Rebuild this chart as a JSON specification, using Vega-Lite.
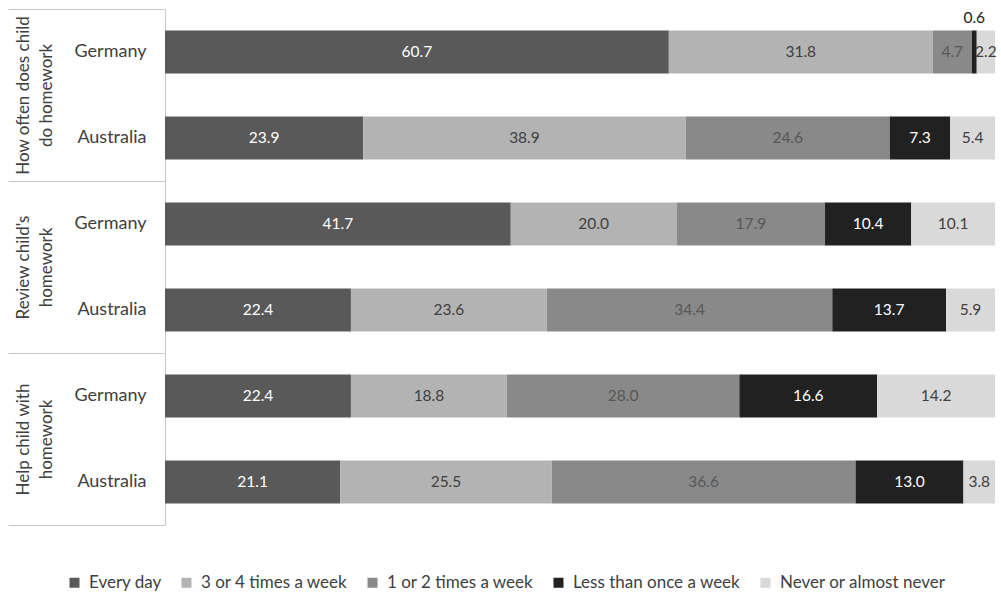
{
  "$schema": "https://vega.github.io/schema/vega-lite/v6.json",
  "width": 830,
  "height": 516,
  "autosize": "none",
  "padding": {"left": 165, "top": 9, "right": 6, "bottom": 68},
  "config": {"view": {"stroke": null}, "font": "Lato"},
  "data": {"values": [
    {"grp": "g1", "country": "Germany", "cat": "Every day", "value": 60.7},
    {"grp": "g1", "country": "Germany", "cat": "3 or 4 times a week", "value": 31.8},
    {"grp": "g1", "country": "Germany", "cat": "1 or 2 times a week", "value": 4.7},
    {"grp": "g1", "country": "Germany", "cat": "Less than once a week", "value": 0.6},
    {"grp": "g1", "country": "Germany", "cat": "Never or almost never", "value": 2.2},
    {"grp": "g1", "country": "Australia", "cat": "Every day", "value": 23.9},
    {"grp": "g1", "country": "Australia", "cat": "3 or 4 times a week", "value": 38.9},
    {"grp": "g1", "country": "Australia", "cat": "1 or 2 times a week", "value": 24.6},
    {"grp": "g1", "country": "Australia", "cat": "Less than once a week", "value": 7.3},
    {"grp": "g1", "country": "Australia", "cat": "Never or almost never", "value": 5.4},
    {"grp": "g2", "country": "Germany", "cat": "Every day", "value": 41.7},
    {"grp": "g2", "country": "Germany", "cat": "3 or 4 times a week", "value": 20.0},
    {"grp": "g2", "country": "Germany", "cat": "1 or 2 times a week", "value": 17.9},
    {"grp": "g2", "country": "Germany", "cat": "Less than once a week", "value": 10.4},
    {"grp": "g2", "country": "Germany", "cat": "Never or almost never", "value": 10.1},
    {"grp": "g2", "country": "Australia", "cat": "Every day", "value": 22.4},
    {"grp": "g2", "country": "Australia", "cat": "3 or 4 times a week", "value": 23.6},
    {"grp": "g2", "country": "Australia", "cat": "1 or 2 times a week", "value": 34.4},
    {"grp": "g2", "country": "Australia", "cat": "Less than once a week", "value": 13.7},
    {"grp": "g2", "country": "Australia", "cat": "Never or almost never", "value": 5.9},
    {"grp": "g3", "country": "Germany", "cat": "Every day", "value": 22.4},
    {"grp": "g3", "country": "Germany", "cat": "3 or 4 times a week", "value": 18.8},
    {"grp": "g3", "country": "Germany", "cat": "1 or 2 times a week", "value": 28.0},
    {"grp": "g3", "country": "Germany", "cat": "Less than once a week", "value": 16.6},
    {"grp": "g3", "country": "Germany", "cat": "Never or almost never", "value": 14.2},
    {"grp": "g3", "country": "Australia", "cat": "Every day", "value": 21.1},
    {"grp": "g3", "country": "Australia", "cat": "3 or 4 times a week", "value": 25.5},
    {"grp": "g3", "country": "Australia", "cat": "1 or 2 times a week", "value": 36.6},
    {"grp": "g3", "country": "Australia", "cat": "Less than once a week", "value": 13.0},
    {"grp": "g3", "country": "Australia", "cat": "Never or almost never", "value": 3.8}
  ]},
  "transform": [
    {"calculate": "indexof(['Every day','3 or 4 times a week','1 or 2 times a week','Less than once a week','Never or almost never'], datum.cat)", "as": "k"},
    {"calculate": "datum.grp + '|' + datum.country", "as": "row"},
    {"stack": "value", "groupby": ["row"], "sort": [{"field": "k", "order": "ascending"}], "offset": "normalize", "as": ["x0", "x1"]},
    {"calculate": "(datum.x0 + datum.x1) / 2", "as": "mid"}
  ],
  "layer": [
    {
      "encoding": {
        "y": {"field": "row", "type": "nominal", "sort": null,
              "scale": {"paddingInner": 0.5, "paddingOuter": 0.25},
              "axis": {"title": null, "domain": false, "ticks": false, "labelPadding": 19, "labelFontSize": 18, "labelColor": "#404040",
                       "labelExpr": "indexof(datum.value, 'Germany') >= 0 ? 'Germany' : 'Australia'"}}
      },
      "layer": [
        {
          "mark": {"type": "bar"},
          "encoding": {
            "x": {"field": "x0", "type": "quantitative", "scale": {"domain": [0, 1], "nice": false}, "axis": null},
            "x2": {"field": "x1"},
            "color": {"field": "cat", "type": "nominal",
                      "scale": {"domain": ["Every day", "3 or 4 times a week", "1 or 2 times a week", "Less than once a week", "Never or almost never"],
                                "range": ["#595959", "#b3b3b3", "#898989", "#212121", "#d9d9d9"]},
                      "legend": {"orient": "none", "legendX": -99, "legendY": 565, "direction": "horizontal", "title": null,
                                 "symbolType": "square", "symbolSize": 100, "symbolStrokeWidth": 0, "labelFontSize": 17, "labelColor": "#404040",
                                 "columnPadding": 16, "labelOffset": 6, "labelLimit": 400}}
          }
        },
        {
          "transform": [{"filter": "datum.value >= 1"}],
          "mark": {"type": "text", "fontSize": 15.5, "baseline": "middle", "align": "center"},
          "encoding": {
            "x": {"field": "mid", "type": "quantitative"},
            "text": {"field": "value", "type": "quantitative", "format": ".1f"},
            "color": {"condition": [
              {"test": "datum.cat == 'Every day' || datum.cat == 'Less than once a week'", "value": "#ffffff"},
              {"test": "datum.cat == '1 or 2 times a week'", "value": "#575757"}
            ], "value": "#404040"}
          }
        },
        {
          "transform": [{"filter": "datum.value < 1"}],
          "mark": {"type": "text", "fontSize": 15.5, "baseline": "middle", "align": "center", "dy": -34, "color": "#1a1a1a"},
          "encoding": {
            "x": {"field": "mid", "type": "quantitative"},
            "text": {"field": "value", "type": "quantitative", "format": ".1f"}
          }
        }
      ]
    },
    {
      "mark": {"type": "rule", "opacity": 0},
      "encoding": {
        "y": {"field": "grp", "type": "nominal", "sort": null,
              "scale": {"paddingInner": 0, "paddingOuter": 0},
              "axis": {"orient": "left", "title": null, "domainColor": "#c8c8c8", "tickColor": "#c8c8c8", "tickSize": 157,
                       "tickBand": "extent", "labelAngle": -90, "labelAlign": "center", "labelBaseline": "middle",
                       "labelPadding": -15, "labelFontSize": 17, "labelColor": "#404040", "labelLineHeight": 23,
                       "labelLimit": 400, "labelOverlap": false,
                       "labelExpr": "datum.value == 'g1' ? ['How often does child', 'do homework'] : datum.value == 'g2' ? [\"Review child's\", 'homework'] : datum.value == 'g3' ? ['Help child with', 'homework'] : ''"}}
      }
    }
  ],
  "resolve": {"scale": {"y": "independent"}, "axis": {"y": "independent"}}
}
